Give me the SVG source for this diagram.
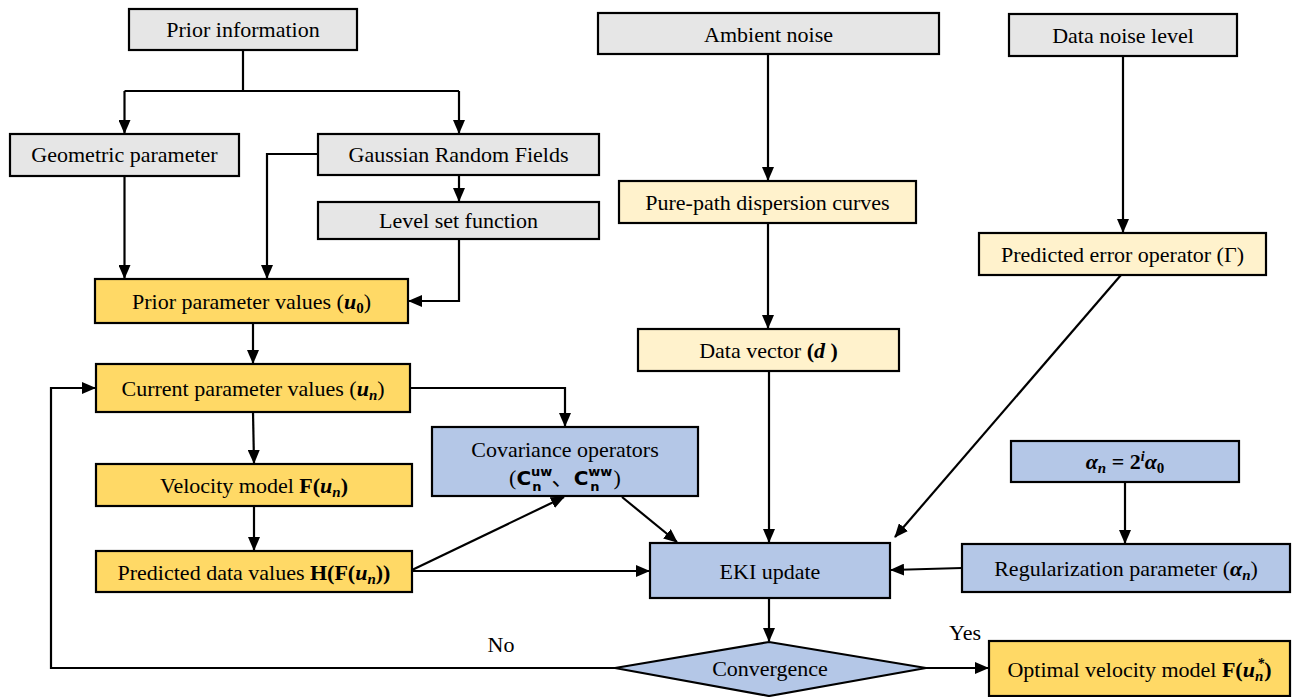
<svg xmlns="http://www.w3.org/2000/svg" width="1293" height="697" viewBox="0 0 1293 697">
<style>
  .box{stroke:#000;stroke-width:2.2}
  .gray{fill:#e6e6e6}
  .ly{fill:#fff2cc}
  .gold{fill:#ffd966}
  .blue{fill:#b4c7e7}
  .c{text-anchor:middle}
  .m{font-weight:bold;font-style:italic}
  .b{font-weight:bold}
  .con{fill:none;stroke:#000;stroke-width:2.2}
</style>
<defs>
  <marker id="ah" markerUnits="userSpaceOnUse" markerWidth="14" markerHeight="12" refX="13" refY="6" orient="auto">
    <path d="M0,0 L14,6 L0,12 Z" fill="#000"/>
  </marker>
</defs>
<rect width="1293" height="697" fill="#fff"/>

<g id="connectors">
  <path class="con" d="M243,50 V91 M124.5,91 H459" />
  <path class="con" d="M124.5,91 V133" marker-end="url(#ah)"/>
  <path class="con" d="M459,91 V133" marker-end="url(#ah)"/>
  <path class="con" d="M124.5,176 V278" marker-end="url(#ah)"/>
  <path class="con" d="M318,154 H267 V278" marker-end="url(#ah)"/>
  <path class="con" d="M459,175 V201" marker-end="url(#ah)"/>
  <path class="con" d="M459,239 V301 H409" marker-end="url(#ah)"/>
  <path class="con" d="M253,323 V363" marker-end="url(#ah)"/>
  <path class="con" d="M253,412 L254,463" marker-end="url(#ah)"/>
  <path class="con" d="M254,506 V550" marker-end="url(#ah)"/>
  <path class="con" d="M410,388 H565 V426" marker-end="url(#ah)"/>
  <path class="con" d="M412,570 L564,497" marker-end="url(#ah)"/>
  <path class="con" d="M412,571 H649" marker-end="url(#ah)"/>
  <path class="con" d="M622,497 L677,542" marker-end="url(#ah)"/>
  <path class="con" d="M768,54 V180" marker-end="url(#ah)"/>
  <path class="con" d="M768,223 V328" marker-end="url(#ah)"/>
  <path class="con" d="M769,371 V542" marker-end="url(#ah)"/>
  <path class="con" d="M1123,56 V232" marker-end="url(#ah)"/>
  <path class="con" d="M1121,275 L895,537" marker-end="url(#ah)"/>
  <path class="con" d="M1125,482 V543" marker-end="url(#ah)"/>
  <path class="con" d="M962,568 L891,570" marker-end="url(#ah)"/>
  <path class="con" d="M769,598 V641" marker-end="url(#ah)"/>
  <path class="con" d="M926,668 H988" marker-end="url(#ah)"/>
  <path class="con" d="M615,668 H51 V388 H95" marker-end="url(#ah)"/>
  <text x="501" y="652" class="c" font-family="Liberation Serif" font-size="22">No</text>
  <text x="965" y="640" class="c" font-family="Liberation Serif" font-size="22">Yes</text>
</g>

<g id="prior-information">
  <rect class="box gray" x="129" y="9" width="228" height="41"/>
  <text x="243" y="37" class="c" font-family="Liberation Serif" font-size="22">Prior information</text>
</g>
<g id="geometric-parameter">
  <rect class="box gray" x="10" y="134" width="229" height="42"/>
  <text x="124.5" y="162" class="c" font-family="Liberation Serif" font-size="22">Geometric parameter</text>
</g>
<g id="gaussian-random-fields">
  <rect class="box gray" x="318" y="134" width="281" height="41"/>
  <text x="458.5" y="162" class="c" font-family="Liberation Serif" font-size="22">Gaussian Random Fields</text>
</g>
<g id="level-set-function">
  <rect class="box gray" x="318" y="202" width="281" height="37"/>
  <text x="458.5" y="228" class="c" font-family="Liberation Serif" font-size="22">Level set function</text>
</g>
<g id="prior-parameter-values">
  <rect class="box gold" x="95" y="279" width="313" height="44"/>
  <text x="251.5" y="309" class="c" font-family="Liberation Serif" font-size="22">Prior parameter values (<tspan class="m">u</tspan><tspan class="b" font-size="15" dy="4">0</tspan><tspan dy="-4">)</tspan></text>
</g>
<g id="current-parameter-values">
  <rect class="box gold" x="96" y="364" width="314" height="48"/>
  <text x="253" y="396" class="c" font-family="Liberation Serif" font-size="22">Current parameter values (<tspan class="m">u</tspan><tspan class="m" font-size="15" dy="4">n</tspan><tspan dy="-4">)</tspan></text>
</g>
<g id="velocity-model">
  <rect class="box gold" x="96" y="464" width="316" height="42"/>
  <text x="254" y="493" class="c" font-family="Liberation Serif" font-size="22">Velocity model <tspan class="b">F(</tspan><tspan class="m">u</tspan><tspan class="m" font-size="15" dy="4">n</tspan><tspan class="b" dy="-4">)</tspan></text>
</g>
<g id="predicted-data-values">
  <rect class="box gold" x="96" y="551" width="316" height="41"/>
  <text x="254" y="580" class="c" font-family="Liberation Serif" font-size="22">Predicted data values <tspan class="b">H(F(</tspan><tspan class="m">u</tspan><tspan class="m" font-size="15" dy="4">n</tspan><tspan class="b" dy="-4">))</tspan></text>
</g>
<g id="ambient-noise">
  <rect class="box gray" x="598" y="13" width="341" height="41"/>
  <text x="768.5" y="42" class="c" font-family="Liberation Serif" font-size="22">Ambient noise</text>
</g>
<g id="data-noise-level">
  <rect class="box gray" x="1009" y="14" width="228" height="42"/>
  <text x="1123" y="43" class="c" font-family="Liberation Serif" font-size="22">Data noise level</text>
</g>
<g id="pure-path-dispersion-curves">
  <rect class="box ly" x="619" y="181" width="297" height="42"/>
  <text x="767.5" y="210" class="c" font-family="Liberation Serif" font-size="22">Pure-path dispersion curves</text>
</g>
<g id="predicted-error-operator">
  <rect class="box ly" x="979" y="233" width="287" height="42"/>
  <text x="1122.5" y="262" class="c" font-family="Liberation Serif" font-size="22">Predicted error operator (Γ)</text>
</g>
<g id="data-vector">
  <rect class="box ly" x="638" y="329" width="261" height="42"/>
  <text x="768.5" y="358" class="c" font-family="Liberation Serif" font-size="22">Data vector <tspan class="b">(</tspan><tspan class="m">d</tspan><tspan class="b"> )</tspan></text>
</g>
<g id="covariance-operators">
  <rect class="box blue" x="432" y="427" width="266" height="69"/>
  <text x="565" y="457" class="c" font-family="Liberation Serif" font-size="22">Covariance operators</text>
  <text x="565" y="485" class="c" font-family="Liberation Serif, Noto Sans CJK SC, serif" font-size="22">(<tspan class="b" font-family="DejaVu Sans" font-size="20">C</tspan><tspan class="b" font-family="DejaVu Sans" font-size="13" dy="-9">uw</tspan><tspan class="b" font-family="DejaVu Sans" font-size="13" dx="-20" dy="15">n</tspan><tspan dx="10" dy="-6">、</tspan><tspan class="b" font-family="DejaVu Sans" font-size="20">C</tspan><tspan class="b" font-family="DejaVu Sans" font-size="13" dy="-9">ww</tspan><tspan class="b" font-family="DejaVu Sans" font-size="13" dx="-22" dy="15">n</tspan><tspan dx="14" dy="-6">)</tspan></text>
</g>
<g id="alpha-formula">
  <rect class="box blue" x="1011" y="441" width="228" height="41"/>
  <text x="1125" y="469" class="c" font-family="Liberation Serif" font-size="22"><tspan class="m">α</tspan><tspan class="m" font-size="15" dy="4">n</tspan><tspan class="b" dy="-4"> = 2</tspan><tspan class="m" font-size="14" dy="-8">i</tspan><tspan class="m" dy="8">α</tspan><tspan class="b" font-size="15" dy="4">0</tspan></text>
</g>
<g id="regularization-parameter">
  <rect class="box blue" x="962" y="544" width="328" height="48"/>
  <text x="1126" y="576" class="c" font-family="Liberation Serif" font-size="22">Regularization parameter (<tspan class="m">α</tspan><tspan class="m" font-size="15" dy="4">n</tspan><tspan dy="-4">)</tspan></text>
</g>
<g id="eki-update">
  <rect class="box blue" x="650" y="543" width="240" height="55"/>
  <text x="770" y="579" class="c" font-family="Liberation Serif" font-size="22">EKI update</text>
</g>
<g id="convergence">
  <polygon class="box blue" points="769,642 926,668 769,696 615,668"/>
  <text x="770" y="676" class="c" font-family="Liberation Serif" font-size="22">Convergence</text>
</g>
<g id="optimal-velocity-model">
  <rect class="box gold" x="989" y="641" width="301" height="55"/>
  <text x="1139.5" y="677" class="c" font-family="Liberation Serif" font-size="22">Optimal velocity model <tspan class="b">F(</tspan><tspan class="m">u</tspan><tspan class="m" font-size="15" dy="4">n</tspan><tspan class="m" font-size="14" dx="-6" dy="-13">*</tspan><tspan class="b" dy="9">)</tspan></text>
</g>
</svg>
